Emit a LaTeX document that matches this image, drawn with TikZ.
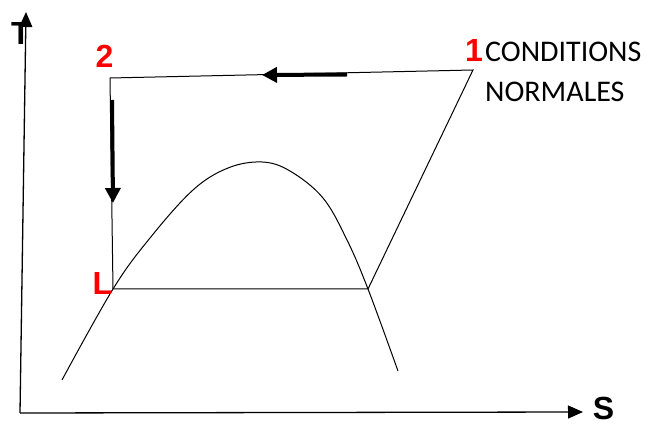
\documentclass[tikz,border=0pt]{standalone}
\usepackage{fontspec}
\usepackage{tikz}
\usetikzlibrary{arrows.meta,positioning}
\newfontfamily\lblfont{Liberation Sans}
\newfontfamily\notefont{Carlito}
\definecolor{redlbl}{HTML}{FF0000}
\tikzset{
  ln/.style={line width=1pt,black},
  ax/.style={line width=1.3pt,-{Triangle[length=15pt,width=13pt]}},
  fl/.style={line width=4pt,-{Triangle[length=15pt,width=15pt]}},
  pt/.style={font=\lblfont\bfseries\fontsize{32}{38}\selectfont,inner sep=0pt},
  note/.style={font=\notefont\fontsize{30}{36}\selectfont,inner sep=0pt,anchor=base west}
}

\begin{document}
\begin{tikzpicture}[x=1pt,y=-1pt]
\useasboundingbox (0,0) rectangle (654,427);
% axes
\coordinate (o) at (20,413);
\coordinate (ty) at (26,12);
\coordinate (sx) at (583,412);
\node[pt] (tlab) at (21,33) {T};
\node[pt] (slab) at (603.5,408) {S};
\draw[ax] (o) -- (ty);
\draw[ax] (o) -- (sx);
% cycle points
\coordinate (p1) at (473,70);
\coordinate (p2) at (110,78);
\coordinate (pL) at (113,289);
\coordinate (pR) at (368,289);
\draw[ln] (p2) -- (p1) -- (pR) -- (pL) -- (p2);
% saturation dome
\draw[ln] plot[smooth,tension=0.6] coordinates {(62,380) (113,289) (150,238)
  (193,190) (228,168) (262,162) (290,171) (323,198) (347,240) (368,289) (398,371)};
% flow arrows
\coordinate (a1) at (347,74.5);
\coordinate (a2) at (262,75);
\coordinate (b1) at (112,100);
\coordinate (b2) at (113,203);
\draw[fl] (a1) -- (a2);
\draw[fl] (b1) -- (b2);
% labels
\node[pt,redlbl] (n1) at (474,50) {1};
\node[pt,redlbl] (n2) at (104.5,56) {2};
\node[pt,redlbl] (nL) at (102.5,283) {L};
\node[note] (cond) at (485,62) {CONDITIONS};
\node[note] (norm) at (485,102) {NORMALES};
\end{tikzpicture}
\end{document}
